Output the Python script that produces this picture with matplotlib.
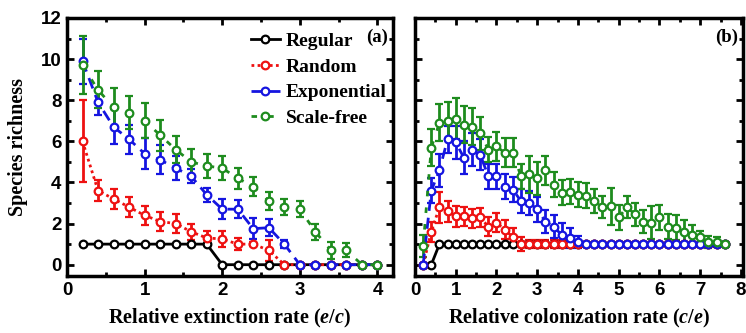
import matplotlib
matplotlib.use('Agg')
import matplotlib.pyplot as plt
from matplotlib.lines import Line2D
from matplotlib.ticker import MultipleLocator
import numpy as np

# panel (a): relative extinction rate e/c
ext_rate = np.round(np.arange(0.2, 4.01, 0.2), 2)
reg_a = [1, 1, 1, 1, 1, 1, 1, 1, 1, 0, 0, 0, 0, 0, 0, 0, 0, 0, 0, 0]
rnd_a = [6.0, 3.6, 3.2, 2.8, 2.4, 2.1, 2.0, 1.6, 1.3, 1.25, 1.0, 1.0, 0.7, 0, 0, 0, 0, 0, 0, 0]
rnd_a_err = [2.0, 0.5, 0.5, 0.5, 0.45, 0.45, 0.45, 0.4, 0.35, 0.4, 0.3, 0.1, 0.5, 0, 0, 0, 0, 0, 0, 0]
exp_a = [9.9, 7.9, 6.7, 6.1, 5.4, 5.1, 4.7, 4.3, 3.4, 2.7, 2.7, 1.75, 1.8, 1.0, 0, 0, 0, 0, 0, 0]
exp_a_err = [1.1, 0.6, 0.85, 0.7, 0.75, 0.7, 0.6, 0.35, 0.35, 0.5, 0.45, 0.5, 0.4, 0.2, 0, 0, 0, 0, 0, 0]
sf_a = [9.7, 8.5, 7.65, 7.4, 7.0, 6.3, 5.6, 5.0, 4.8, 4.7, 4.2, 3.8, 3.1, 2.8, 2.7, 1.6, 0.7, 0.7, 0, 0]
sf_a_err = [1.4, 0.9, 0.95, 0.8, 0.85, 0.75, 0.65, 0.65, 0.6, 0.6, 0.5, 0.45, 0.45, 0.4, 0.4, 0.4, 0.4, 0.35, 0, 0]

# panel (b): relative colonization rate c/e
col_rate = np.round(np.arange(0.2, 7.61, 0.2), 2)
reg_b = [0, 0] + [1] * 36
rnd_b = [0, 1.6, 2.8, 2.6, 2.35, 2.35, 2.25, 2.3, 1.85, 2.05, 1.7, 1.35, 1.0] + [1.0] * 25
rnd_b_err = [0, 0.5, 0.75, 0.5, 0.5, 0.45, 0.45, 0.45, 0.45, 0.45, 0.45, 0.45, 0.35,
             0.2, 0.2, 0.2, 0.2, 0.2, 0.15, 0.15] + [0] * 18
exp_b = [0, 3.6, 4.6, 6.1, 5.95, 5.2, 5.6, 5.35, 4.3, 4.3, 3.8, 3.65, 3.1, 3.0, 2.7, 2.1,
         1.85, 1.45, 1.3, 1.1] + [1.0] * 18
exp_b_err = [0, 0.6, 0.8, 0.65, 0.8, 0.8, 0.8, 0.75, 0.6, 0.6, 0.6, 0.6, 0.6, 0.6, 0.6,
             0.55, 0.55, 0.6, 0.5, 0.3] + [0] * 18
sf_b = [0.9, 5.7, 6.9, 7.0, 7.1, 6.8, 6.7, 6.4, 5.6, 5.75, 5.45, 5.45, 4.3, 4.4, 4.2, 4.6,
        3.9, 3.5, 3.55, 3.4, 3.35, 3.1, 2.8, 2.85, 2.3, 2.8, 2.45, 2.1, 2.05, 2.3, 1.85,
        1.8, 1.6, 1.45, 1.35, 1.1, 1.1, 1.0]
sf_b_err = [0.55, 0.9, 0.9, 0.9, 1.0, 0.9, 0.9, 0.8, 0.6, 0.7, 0.7, 0.7, 0.6, 0.9, 0.8,
            0.7, 0.6, 0.6, 0.6, 0.6, 0.6, 0.6, 0.55, 0.9, 0.6, 0.55, 0.55, 0.55, 0.8, 0.6,
            0.6, 0.6, 0.55, 0.5, 0.3, 0.3, 0.25, 0.0]

labels = ['Regular', 'Random', 'Exponential', 'Scale-free']
colors = ['black', '#ee1111', '#1515e0', '#1e8c1e']
styles = ['-', (0, (1, 1.2)), (0, (4, 2.5)), (0, (2, 4))]

plt.rcParams['mathtext.fontset'] = 'custom'
plt.rcParams['mathtext.it'] = 'Liberation Serif:italic:bold'
plt.rcParams['mathtext.rm'] = 'Liberation Serif:bold'
serif = 'Liberation Serif'
sans = 'Liberation Sans'

fig = plt.figure(figsize=(7.46, 3.33), dpi=100)
ax_a = fig.add_axes([0.0898, 0.1712, 0.4370, 0.7748])
ax_b = fig.add_axes([0.5563, 0.1712, 0.4397, 0.7748])


def draw_series(ax, x, ys, errs):
    for y, err, c, ls in zip(ys, errs, colors, styles):
        ax.errorbar(x, y, yerr=err, color=c, ls=ls, lw=2, marker='o', ms=5.5,
                    mfc='white', mec=c, mew=1.6, elinewidth=2, capsize=3, capthick=1.8)


draw_series(ax_a, ext_rate, [reg_a, rnd_a, exp_a, sf_a],
            [None, rnd_a_err, exp_a_err, sf_a_err])
draw_series(ax_b, col_rate, [reg_b, rnd_b, exp_b, sf_b],
            [None, rnd_b_err, exp_b_err, sf_b_err])

for ax in (ax_a, ax_b):
    ax.set_ylim(-0.55, 12)
    ax.yaxis.set_major_locator(MultipleLocator(2))
    ax.yaxis.set_minor_locator(MultipleLocator(1))
    ax.xaxis.set_major_locator(MultipleLocator(1))
    ax.xaxis.set_minor_locator(MultipleLocator(0.5))
    ax.tick_params(which='both', direction='in', top=True, right=True, width=2)
    ax.tick_params(which='major', length=5, labelsize=13.5, pad=4)
    ax.tick_params(which='minor', length=3)
    for sp in ax.spines.values():
        sp.set_linewidth(2.5)
    for t in ax.get_xticklabels() + ax.get_yticklabels():
        t.set_fontfamily(sans)
        t.set_fontweight('bold')

ax_a.set_xlim(0, 4.2)
ax_b.set_xlim(0, 8.05)
ax_b.tick_params(labelleft=False)

ax_a.set_xlabel('Relative extinction rate ($e/c$)', fontfamily=serif, fontweight='bold',
                fontsize=14.5, labelpad=6)
ax_b.set_xlabel('Relative colonization rate ($c/e$)', fontfamily=serif, fontweight='bold',
                fontsize=14.5, labelpad=6)
ax_a.set_ylabel('Species richness', fontfamily=serif, fontweight='bold', fontsize=14.5,
                labelpad=9)

ax_a.text(0.985, 0.96, '(a)', transform=ax_a.transAxes, ha='right', va='top',
          fontfamily=serif, fontweight='bold', fontsize=13.5)
ax_b.text(0.985, 0.96, '(b)', transform=ax_b.transAxes, ha='right', va='top',
          fontfamily=serif, fontweight='bold', fontsize=13.5)

handles = [Line2D([], [], color=c, ls=ls, lw=2, marker='o', ms=5.5, mfc='white', mec=c, mew=1.6)
           for c, ls in zip(colors, styles)]
ax_a.legend(handles, labels, loc='upper left', bbox_to_anchor=(0.54, 0.975), frameon=False,
            prop={'family': serif, 'weight': 'bold', 'size': 14}, handlelength=1.5,
            handletextpad=0.3, labelspacing=0.42, borderaxespad=0)

fig.savefig('out.png', dpi=100)
